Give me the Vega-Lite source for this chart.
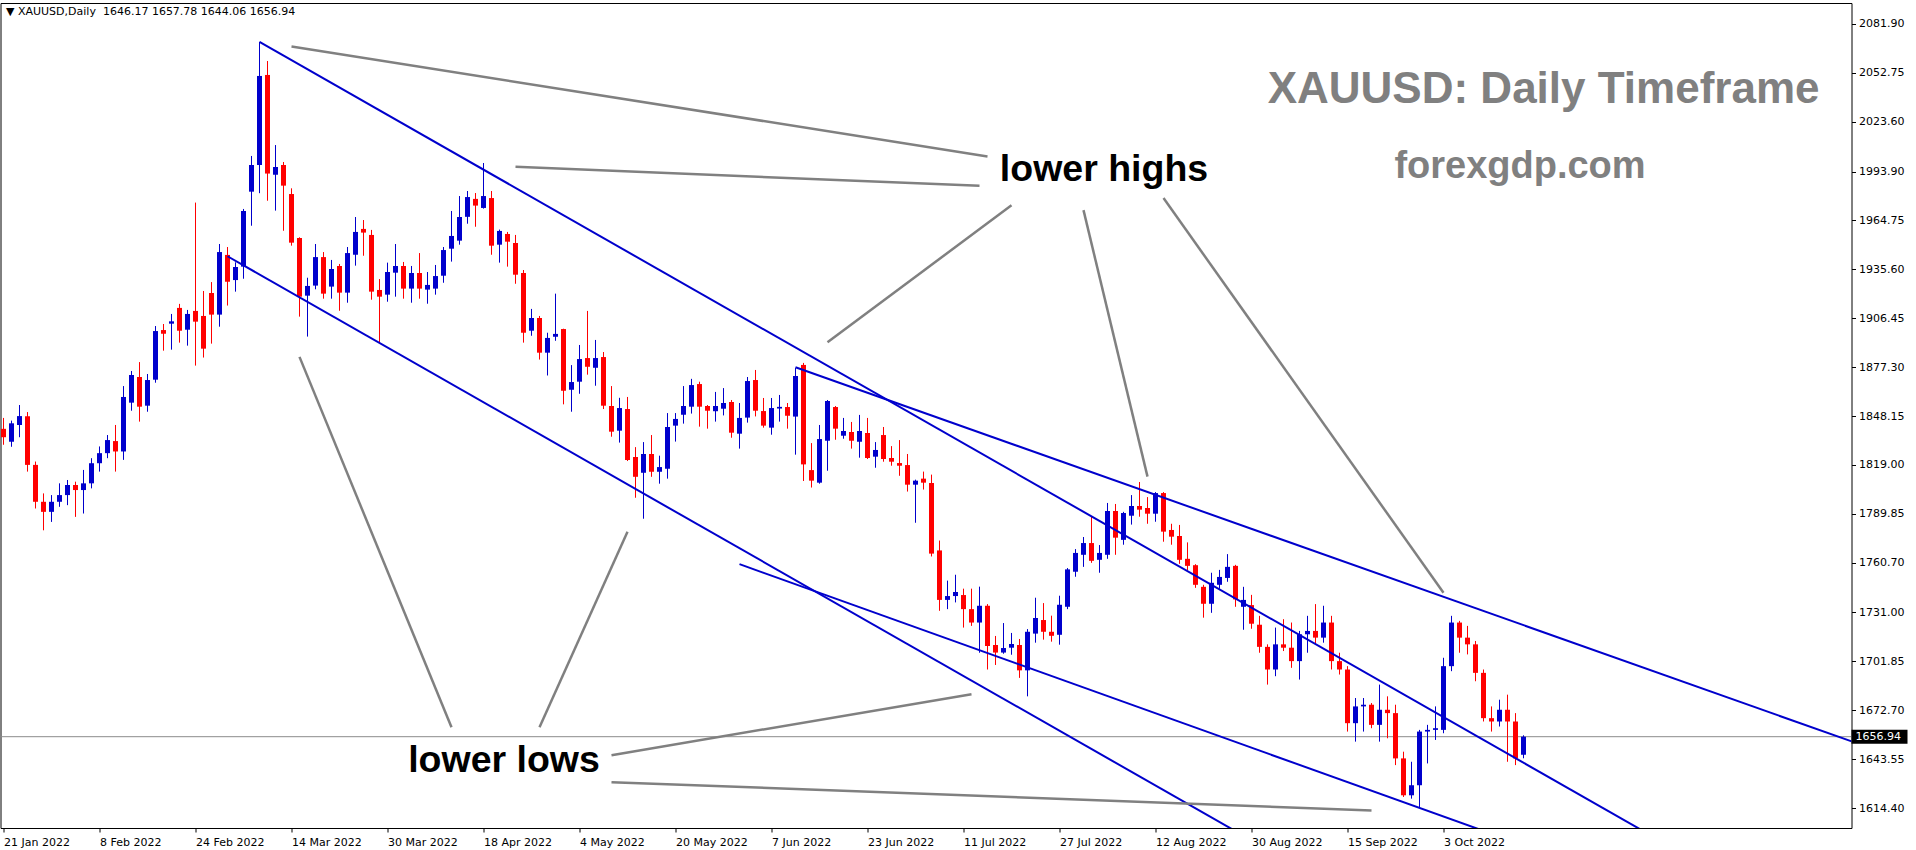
{
"$schema":"https://vega.github.io/schema/vega-lite/v6.json",
"width":1851,"height":825,
"autosize":{"type":"none"},
"padding":{"left":0.5,"top":3,"right":64.5,"bottom":22},
"background":"white",
"view":{"stroke":"black","strokeWidth":1},
"config":{"font":"DejaVu Sans"},
"datasets":{
"candles":[
{"d":"2022-01-21","o":1840.5,"h":1847,"l":1831,"c":1835.5},
{"d":"2022-01-24","o":1832.8,"h":1845.4,"l":1829.8,"c":1843.8},
{"d":"2022-01-25","o":1842.8,"h":1854.7,"l":1835.5,"c":1848.1},
{"d":"2022-01-26","o":1848,"h":1850.5,"l":1815,"c":1819},
{"d":"2022-01-27","o":1819,"h":1821,"l":1793,"c":1797},
{"d":"2022-01-28","o":1797,"h":1802,"l":1780,"c":1791},
{"d":"2022-01-31","o":1791,"h":1801,"l":1785,"c":1797},
{"d":"2022-02-01","o":1797,"h":1808,"l":1794,"c":1801},
{"d":"2022-02-02","o":1801,"h":1810,"l":1795,"c":1807},
{"d":"2022-02-03","o":1807,"h":1809,"l":1788,"c":1804},
{"d":"2022-02-04","o":1804,"h":1816,"l":1790,"c":1808},
{"d":"2022-02-07","o":1808,"h":1823,"l":1805,"c":1820},
{"d":"2022-02-08","o":1820,"h":1830,"l":1815,"c":1826},
{"d":"2022-02-09","o":1826,"h":1836.8,"l":1823,"c":1833.8},
{"d":"2022-02-10","o":1833.2,"h":1842.8,"l":1815,"c":1827},
{"d":"2022-02-11","o":1827,"h":1866,"l":1822,"c":1859.5},
{"d":"2022-02-14","o":1856.1,"h":1875,"l":1851.3,"c":1872.6},
{"d":"2022-02-15","o":1871.4,"h":1880.3,"l":1844.8,"c":1853.7},
{"d":"2022-02-16","o":1854.3,"h":1873.2,"l":1850.7,"c":1869.6},
{"d":"2022-02-17","o":1869.8,"h":1901.8,"l":1868,"c":1898.8},
{"d":"2022-02-18","o":1899.4,"h":1903,"l":1887.1,"c":1897.2},
{"d":"2022-02-21","o":1903.2,"h":1909,"l":1887.7,"c":1904.6},
{"d":"2022-02-22","o":1912.6,"h":1915,"l":1891.9,"c":1899},
{"d":"2022-02-23","o":1899.6,"h":1911.4,"l":1890.1,"c":1909},
{"d":"2022-02-24","o":1910.8,"h":1975.4,"l":1878.2,"c":1904.4},
{"d":"2022-02-25","o":1907.8,"h":1922.7,"l":1883,"c":1888.3},
{"d":"2022-02-28","o":1921.5,"h":1928,"l":1891.3,"c":1908.6},
{"d":"2022-03-01","o":1908.6,"h":1950.7,"l":1901.4,"c":1945.9},
{"d":"2022-03-02","o":1944.2,"h":1948.9,"l":1914,"c":1928.2},
{"d":"2022-03-03","o":1929.2,"h":1939.8,"l":1922.3,"c":1937},
{"d":"2022-03-04","o":1937.2,"h":1971.6,"l":1930,"c":1970.4},
{"d":"2022-03-07","o":1981.9,"h":2003.2,"l":1961.6,"c":1997.8},
{"d":"2022-03-08","o":1997.8,"h":2071.2,"l":1981,"c":2050.9},
{"d":"2022-03-09","o":2051.5,"h":2059.8,"l":1976.5,"c":1992.7},
{"d":"2022-03-10","o":1992,"h":2009.7,"l":1970.6,"c":1996.6},
{"d":"2022-03-11","o":1997.8,"h":1999.6,"l":1958.6,"c":1985.5},
{"d":"2022-03-14","o":1980.5,"h":1983.9,"l":1949.7,"c":1951.5},
{"d":"2022-03-15","o":1954.3,"h":1954.7,"l":1907.4,"c":1919.3},
{"d":"2022-03-16","o":1919.9,"h":1930.6,"l":1895.5,"c":1925.7},
{"d":"2022-03-17","o":1925.9,"h":1950.7,"l":1923.7,"c":1942.9},
{"d":"2022-03-18","o":1942.9,"h":1945.9,"l":1918.1,"c":1921.1},
{"d":"2022-03-21","o":1925.3,"h":1941.2,"l":1918.1,"c":1935.8},
{"d":"2022-03-22","o":1937.6,"h":1938.8,"l":1910.9,"c":1921.7},
{"d":"2022-03-23","o":1921.7,"h":1948.9,"l":1915.7,"c":1945.3},
{"d":"2022-03-24","o":1944.3,"h":1966.8,"l":1937.8,"c":1957.9},
{"d":"2022-03-25","o":1959.7,"h":1965,"l":1943.7,"c":1957.5},
{"d":"2022-03-28","o":1956.1,"h":1959.1,"l":1917.5,"c":1922.3},
{"d":"2022-03-29","o":1923.3,"h":1929.8,"l":1892,"c":1919.3},
{"d":"2022-03-30","o":1920.5,"h":1939.6,"l":1916.3,"c":1934},
{"d":"2022-03-31","o":1933.6,"h":1950.7,"l":1919.3,"c":1937.6},
{"d":"2022-04-01","o":1937.6,"h":1940,"l":1918.1,"c":1924.1},
{"d":"2022-04-04","o":1924.1,"h":1937.6,"l":1915.7,"c":1933.4},
{"d":"2022-04-05","o":1933.4,"h":1945.3,"l":1918.1,"c":1924.1},
{"d":"2022-04-06","o":1923.5,"h":1934,"l":1915.1,"c":1926.3},
{"d":"2022-04-07","o":1924.1,"h":1938.2,"l":1920.5,"c":1931.6},
{"d":"2022-04-08","o":1931.8,"h":1948.9,"l":1927.6,"c":1947.1},
{"d":"2022-04-11","o":1947.9,"h":1970.4,"l":1940.2,"c":1955.5},
{"d":"2022-04-12","o":1952.7,"h":1979.3,"l":1950.3,"c":1966.8},
{"d":"2022-04-13","o":1966.9,"h":1982.3,"l":1962.8,"c":1978.7},
{"d":"2022-04-14","o":1977.6,"h":1981.1,"l":1961,"c":1973.6},
{"d":"2022-04-18","o":1972.2,"h":1999,"l":1971.8,"c":1979.3},
{"d":"2022-04-19","o":1978.1,"h":1982.3,"l":1944.3,"c":1949.7},
{"d":"2022-04-20","o":1950.3,"h":1959.3,"l":1939.6,"c":1958.5},
{"d":"2022-04-21","o":1956.7,"h":1957.9,"l":1937.2,"c":1952.1},
{"d":"2022-04-22","o":1951.3,"h":1956.1,"l":1927,"c":1932.4},
{"d":"2022-04-25","o":1933.4,"h":1935.2,"l":1891.9,"c":1897.8},
{"d":"2022-04-26","o":1899,"h":1912,"l":1896,"c":1906.6},
{"d":"2022-04-27","o":1906.6,"h":1907.8,"l":1881.8,"c":1885.9},
{"d":"2022-04-28","o":1885.9,"h":1897.8,"l":1872.3,"c":1894.7},
{"d":"2022-04-29","o":1895.4,"h":1921.1,"l":1893,"c":1897.1},
{"d":"2022-05-02","o":1900,"h":1900.2,"l":1855.1,"c":1863.2},
{"d":"2022-05-03","o":1863.8,"h":1878.5,"l":1850.7,"c":1868.4},
{"d":"2022-05-04","o":1868.6,"h":1890.5,"l":1861.4,"c":1882.1},
{"d":"2022-05-05","o":1882.7,"h":1910.8,"l":1872.8,"c":1877.5},
{"d":"2022-05-06","o":1876.9,"h":1893.5,"l":1866.2,"c":1882.7},
{"d":"2022-05-09","o":1883.3,"h":1886.3,"l":1852.3,"c":1854.3},
{"d":"2022-05-10","o":1854.1,"h":1866,"l":1835.8,"c":1838.8},
{"d":"2022-05-11","o":1839.4,"h":1859,"l":1832.3,"c":1852.9},
{"d":"2022-05-12","o":1852.3,"h":1859.5,"l":1821.3,"c":1821.9},
{"d":"2022-05-13","o":1823.7,"h":1829.6,"l":1799.4,"c":1811.9},
{"d":"2022-05-16","o":1814.3,"h":1832.6,"l":1786.9,"c":1825.5},
{"d":"2022-05-17","o":1825.5,"h":1836.8,"l":1811.9,"c":1814.9},
{"d":"2022-05-18","o":1814.9,"h":1824.5,"l":1807.8,"c":1817.7},
{"d":"2022-05-19","o":1816.7,"h":1849.9,"l":1810.8,"c":1841.6},
{"d":"2022-05-20","o":1842.4,"h":1849.9,"l":1832.9,"c":1846.4},
{"d":"2022-05-23","o":1848.9,"h":1866,"l":1843.6,"c":1854.1},
{"d":"2022-05-24","o":1853.7,"h":1870.3,"l":1849.6,"c":1866.6},
{"d":"2022-05-25","o":1867.2,"h":1868.6,"l":1841.8,"c":1853.7},
{"d":"2022-05-26","o":1854.1,"h":1854.7,"l":1840.6,"c":1851.3},
{"d":"2022-05-27","o":1851,"h":1862.5,"l":1844.8,"c":1854.1},
{"d":"2022-05-30","o":1852.5,"h":1864.8,"l":1848.5,"c":1855.9},
{"d":"2022-05-31","o":1856.5,"h":1857.7,"l":1835.2,"c":1838.2},
{"d":"2022-06-01","o":1837.6,"h":1855.9,"l":1828.7,"c":1847},
{"d":"2022-06-02","o":1847.2,"h":1871.4,"l":1844.2,"c":1869},
{"d":"2022-06-03","o":1869.6,"h":1875.6,"l":1847.9,"c":1851.3},
{"d":"2022-06-06","o":1851.1,"h":1858.9,"l":1841.2,"c":1842.4},
{"d":"2022-06-07","o":1841.2,"h":1858.9,"l":1837,"c":1852.9},
{"d":"2022-06-08","o":1852.6,"h":1860.7,"l":1844.8,"c":1853.6},
{"d":"2022-06-09","o":1853.5,"h":1855.9,"l":1840.6,"c":1848.3},
{"d":"2022-06-10","o":1847.8,"h":1876.8,"l":1825.1,"c":1872},
{"d":"2022-06-13","o":1878.6,"h":1879.8,"l":1809.4,"c":1819.3},
{"d":"2022-06-14","o":1815.9,"h":1832,"l":1805.5,"c":1809.6},
{"d":"2022-06-15","o":1808.4,"h":1842.8,"l":1807.8,"c":1834.4},
{"d":"2022-06-16","o":1833.4,"h":1857.7,"l":1815.5,"c":1857.1},
{"d":"2022-06-17","o":1853.5,"h":1854.1,"l":1834,"c":1840.6},
{"d":"2022-06-20","o":1836.4,"h":1847,"l":1834.6,"c":1839.2},
{"d":"2022-06-21","o":1838.6,"h":1844.6,"l":1828.7,"c":1833.4},
{"d":"2022-06-22","o":1832.8,"h":1848.8,"l":1823.3,"c":1839.2},
{"d":"2022-06-23","o":1838,"h":1847,"l":1822.5,"c":1823.1},
{"d":"2022-06-24","o":1823.9,"h":1832.6,"l":1817.3,"c":1827.9},
{"d":"2022-06-27","o":1836.8,"h":1841.6,"l":1820.9,"c":1822.5},
{"d":"2022-06-28","o":1823.1,"h":1830.2,"l":1818.5,"c":1820.9},
{"d":"2022-06-29","o":1820.1,"h":1833.8,"l":1812.5,"c":1818.5},
{"d":"2022-06-30","o":1818.9,"h":1825.5,"l":1803.1,"c":1807.2},
{"d":"2022-07-01","o":1807.2,"h":1810.2,"l":1784.5,"c":1809.6},
{"d":"2022-07-04","o":1810.8,"h":1815,"l":1804.3,"c":1808.4},
{"d":"2022-07-05","o":1808.2,"h":1813.2,"l":1764.4,"c":1766.1},
{"d":"2022-07-06","o":1768,"h":1773.9,"l":1732,"c":1738.5},
{"d":"2022-07-07","o":1738.5,"h":1750,"l":1733,"c":1740.8},
{"d":"2022-07-08","o":1740.8,"h":1753.5,"l":1737,"c":1743.2},
{"d":"2022-07-11","o":1741.4,"h":1745.2,"l":1722,"c":1733},
{"d":"2022-07-12","o":1733,"h":1745.2,"l":1723,"c":1725},
{"d":"2022-07-13","o":1725,"h":1746.4,"l":1707,"c":1735},
{"d":"2022-07-14","o":1735,"h":1736,"l":1697,"c":1711},
{"d":"2022-07-15","o":1711.6,"h":1717,"l":1699.7,"c":1707.1},
{"d":"2022-07-18","o":1707.1,"h":1724.7,"l":1706.4,"c":1709.8},
{"d":"2022-07-19","o":1710,"h":1718.8,"l":1705.8,"c":1712.2},
{"d":"2022-07-20","o":1711.6,"h":1715.2,"l":1692,"c":1696.5},
{"d":"2022-07-21","o":1696.5,"h":1721.1,"l":1681,"c":1719.5},
{"d":"2022-07-22","o":1718.4,"h":1739.8,"l":1713,"c":1727.7},
{"d":"2022-07-25","o":1726.5,"h":1736.6,"l":1714.8,"c":1719.5},
{"d":"2022-07-26","o":1719.5,"h":1729.1,"l":1713.6,"c":1717.1},
{"d":"2022-07-27","o":1717.7,"h":1741,"l":1711.8,"c":1735.6},
{"d":"2022-07-28","o":1734.4,"h":1757.5,"l":1733,"c":1756.7},
{"d":"2022-07-29","o":1755.3,"h":1768.8,"l":1752.3,"c":1766.5},
{"d":"2022-08-01","o":1765.4,"h":1776,"l":1758.2,"c":1772.4},
{"d":"2022-08-02","o":1772.4,"h":1788.5,"l":1760.6,"c":1761.8},
{"d":"2022-08-03","o":1762.4,"h":1771.2,"l":1754.7,"c":1766.5},
{"d":"2022-08-04","o":1765.4,"h":1796.3,"l":1763,"c":1791.5},
{"d":"2022-08-05","o":1791.5,"h":1795.7,"l":1765.4,"c":1775.6},
{"d":"2022-08-08","o":1774.3,"h":1791,"l":1771.4,"c":1790.3},
{"d":"2022-08-09","o":1788.7,"h":1801,"l":1783.4,"c":1794.5},
{"d":"2022-08-10","o":1794.5,"h":1808.8,"l":1788.1,"c":1792.3},
{"d":"2022-08-11","o":1793.3,"h":1799.8,"l":1783.9,"c":1789.9},
{"d":"2022-08-12","o":1789.9,"h":1802.8,"l":1785.1,"c":1802.2},
{"d":"2022-08-15","o":1802.2,"h":1802.8,"l":1773.2,"c":1779.2},
{"d":"2022-08-16","o":1780.2,"h":1783.9,"l":1771.4,"c":1776.2},
{"d":"2022-08-17","o":1776.6,"h":1783.2,"l":1760,"c":1762.4},
{"d":"2022-08-18","o":1763,"h":1772.8,"l":1756.3,"c":1758.8},
{"d":"2022-08-19","o":1759.2,"h":1759.8,"l":1745.7,"c":1747.5},
{"d":"2022-08-22","o":1746.3,"h":1747.5,"l":1727.9,"c":1736.2},
{"d":"2022-08-23","o":1736.2,"h":1754.7,"l":1730.8,"c":1748.7},
{"d":"2022-08-24","o":1747.5,"h":1756.4,"l":1745.1,"c":1752.2},
{"d":"2022-08-25","o":1751.6,"h":1765.8,"l":1749.3,"c":1758.2},
{"d":"2022-08-26","o":1758.8,"h":1759.4,"l":1734.4,"c":1738.8},
{"d":"2022-08-29","o":1734.4,"h":1746.3,"l":1720.7,"c":1738.5},
{"d":"2022-08-30","o":1735.4,"h":1741.5,"l":1721.3,"c":1724.3},
{"d":"2022-08-31","o":1723.7,"h":1729,"l":1707,"c":1710.5},
{"d":"2022-09-01","o":1710.5,"h":1712,"l":1688,"c":1697},
{"d":"2022-09-02","o":1697,"h":1722,"l":1693,"c":1712},
{"d":"2022-09-05","o":1712,"h":1727,"l":1708,"c":1710},
{"d":"2022-09-06","o":1710,"h":1725,"l":1698,"c":1702},
{"d":"2022-09-07","o":1702,"h":1720,"l":1691,"c":1718},
{"d":"2022-09-08","o":1718,"h":1729,"l":1707,"c":1720},
{"d":"2022-09-09","o":1720,"h":1736,"l":1712,"c":1716},
{"d":"2022-09-12","o":1716,"h":1735,"l":1713,"c":1725},
{"d":"2022-09-13","o":1725,"h":1729,"l":1697,"c":1702},
{"d":"2022-09-14","o":1702,"h":1707,"l":1694,"c":1697},
{"d":"2022-09-15","o":1697,"h":1699,"l":1660,"c":1665},
{"d":"2022-09-16","o":1665,"h":1680,"l":1654,"c":1675},
{"d":"2022-09-19","o":1675,"h":1680,"l":1660,"c":1676},
{"d":"2022-09-20","o":1676,"h":1677,"l":1662,"c":1664},
{"d":"2022-09-21","o":1664,"h":1688,"l":1654,"c":1673},
{"d":"2022-09-22","o":1673,"h":1681,"l":1656,"c":1671},
{"d":"2022-09-23","o":1671,"h":1676,"l":1640,"c":1644},
{"d":"2022-09-26","o":1644,"h":1648,"l":1621,"c":1622},
{"d":"2022-09-27","o":1622,"h":1642,"l":1620,"c":1628},
{"d":"2022-09-28","o":1628,"h":1661,"l":1615,"c":1660},
{"d":"2022-09-29","o":1660,"h":1664,"l":1641,"c":1661},
{"d":"2022-09-30","o":1661,"h":1675,"l":1655,"c":1662},
{"d":"2022-10-03","o":1661,"h":1704,"l":1659,"c":1699},
{"d":"2022-10-04","o":1699,"h":1729,"l":1696,"c":1725},
{"d":"2022-10-05","o":1725,"h":1726,"l":1707,"c":1716},
{"d":"2022-10-06","o":1716,"h":1723,"l":1706,"c":1712},
{"d":"2022-10-07","o":1712,"h":1714,"l":1690,"c":1695},
{"d":"2022-10-10","o":1695,"h":1697,"l":1666,"c":1668},
{"d":"2022-10-11","o":1668,"h":1675,"l":1660,"c":1666},
{"d":"2022-10-12","o":1666,"h":1679,"l":1663,"c":1673},
{"d":"2022-10-13","o":1673,"h":1682,"l":1642,"c":1666},
{"d":"2022-10-14","o":1666,"h":1671,"l":1640,"c":1644},
{"d":"2022-10-17","o":1646.17,"h":1657.78,"l":1644.06,"c":1656.94}
],
"blue":[
{"id":"L1","d":"2022-03-08","p":2071.2},{"id":"L1","d":"2022-11-08","p":1597.9},
{"id":"L2","d":"2022-06-10","p":1877.2},{"id":"L2","d":"2022-12-19","p":1647.4},
{"id":"L3","d":"2022-03-02","p":1943.4},{"id":"L3","d":"2022-08-30","p":1595.2},
{"id":"L4","d":"2022-06-01","p":1759.8},{"id":"L4","d":"2022-10-11","p":1599.1}
],
"grey":[
{"id":"G1","d":"2022-03-14","p":2068.5},{"id":"G1","d":"2022-07-14","p":2002.9},
{"id":"G2","d":"2022-04-22","p":1996.7},{"id":"G2","d":"2022-07-13","p":1985.4},
{"id":"G3","d":"2022-06-16","p":1892.1},{"id":"G3","d":"2022-07-19","p":1973.8},
{"id":"G4","d":"2022-08-01","p":1970.9},{"id":"G4","d":"2022-08-11","p":1812.0},
{"id":"G5","d":"2022-08-15","p":1978.1},{"id":"G5","d":"2022-10-03","p":1742.8},
{"id":"G6","d":"2022-03-15","p":1883.4},{"id":"G6","d":"2022-04-11","p":1662.6},
{"id":"G7","d":"2022-05-12","p":1779.2},{"id":"G7","d":"2022-04-27","p":1662.6},
{"id":"G8","d":"2022-05-10","p":1645.9},{"id":"G8","d":"2022-07-12","p":1682.3},
{"id":"G9","d":"2022-05-10","p":1629.8},{"id":"G9","d":"2022-09-20","p":1613.0}
]
},
"layer":[
{"data":{"values":[{"p":1656.94}]},
 "mark":{"type":"rule","color":"#8c8c8c","strokeWidth":1},
 "encoding":{"y":{"field":"p","type":"quantitative","title":null}}},
{"data":{"name":"candles"},
 "mark":{"type":"rule","strokeWidth":1},
 "encoding":{
  "x":{"field":"d","type":"ordinal","title":null,
   "scale":{"type":"point","padding":0,"range":[3,1907],
    "domain":["2022-01-21","2022-01-24","2022-01-25","2022-01-26","2022-01-27","2022-01-28","2022-01-31","2022-02-01","2022-02-02","2022-02-03","2022-02-04","2022-02-07","2022-02-08","2022-02-09","2022-02-10","2022-02-11","2022-02-14","2022-02-15","2022-02-16","2022-02-17","2022-02-18","2022-02-21","2022-02-22","2022-02-23","2022-02-24","2022-02-25","2022-02-28","2022-03-01","2022-03-02","2022-03-03","2022-03-04","2022-03-07","2022-03-08","2022-03-09","2022-03-10","2022-03-11","2022-03-14","2022-03-15","2022-03-16","2022-03-17","2022-03-18","2022-03-21","2022-03-22","2022-03-23","2022-03-24","2022-03-25","2022-03-28","2022-03-29","2022-03-30","2022-03-31","2022-04-01","2022-04-04","2022-04-05","2022-04-06","2022-04-07","2022-04-08","2022-04-11","2022-04-12","2022-04-13","2022-04-14","2022-04-18","2022-04-19","2022-04-20","2022-04-21","2022-04-22","2022-04-25","2022-04-26","2022-04-27","2022-04-28","2022-04-29","2022-05-02","2022-05-03","2022-05-04","2022-05-05","2022-05-06","2022-05-09","2022-05-10","2022-05-11","2022-05-12","2022-05-13","2022-05-16","2022-05-17","2022-05-18","2022-05-19","2022-05-20","2022-05-23","2022-05-24","2022-05-25","2022-05-26","2022-05-27","2022-05-30","2022-05-31","2022-06-01","2022-06-02","2022-06-03","2022-06-06","2022-06-07","2022-06-08","2022-06-09","2022-06-10","2022-06-13","2022-06-14","2022-06-15","2022-06-16","2022-06-17","2022-06-20","2022-06-21","2022-06-22","2022-06-23","2022-06-24","2022-06-27","2022-06-28","2022-06-29","2022-06-30","2022-07-01","2022-07-04","2022-07-05","2022-07-06","2022-07-07","2022-07-08","2022-07-11","2022-07-12","2022-07-13","2022-07-14","2022-07-15","2022-07-18","2022-07-19","2022-07-20","2022-07-21","2022-07-22","2022-07-25","2022-07-26","2022-07-27","2022-07-28","2022-07-29","2022-08-01","2022-08-02","2022-08-03","2022-08-04","2022-08-05","2022-08-08","2022-08-09","2022-08-10","2022-08-11","2022-08-12","2022-08-15","2022-08-16","2022-08-17","2022-08-18","2022-08-19","2022-08-22","2022-08-23","2022-08-24","2022-08-25","2022-08-26","2022-08-29","2022-08-30","2022-08-31","2022-09-01","2022-09-02","2022-09-05","2022-09-06","2022-09-07","2022-09-08","2022-09-09","2022-09-12","2022-09-13","2022-09-14","2022-09-15","2022-09-16","2022-09-19","2022-09-20","2022-09-21","2022-09-22","2022-09-23","2022-09-26","2022-09-27","2022-09-28","2022-09-29","2022-09-30","2022-10-03","2022-10-04","2022-10-05","2022-10-06","2022-10-07","2022-10-10","2022-10-11","2022-10-12","2022-10-13","2022-10-14","2022-10-17","2022-10-18","2022-10-19","2022-10-20","2022-10-21","2022-10-24","2022-10-25","2022-10-26","2022-10-27","2022-10-28","2022-10-31","2022-11-01","2022-11-02","2022-11-03","2022-11-04","2022-11-07","2022-11-08","2022-11-09","2022-11-10","2022-11-11","2022-11-14","2022-11-15","2022-11-16","2022-11-17","2022-11-18","2022-11-21","2022-11-22","2022-11-23","2022-11-24","2022-11-25","2022-11-28","2022-11-29","2022-11-30","2022-12-01","2022-12-02","2022-12-05","2022-12-06","2022-12-07","2022-12-08","2022-12-09","2022-12-12","2022-12-13","2022-12-14","2022-12-15","2022-12-16","2022-12-19","2022-12-20","2022-12-21","2022-12-22"]},
   "axis":{"values":["2022-01-21","2022-02-08","2022-02-24","2022-03-14","2022-03-30","2022-04-18","2022-05-04","2022-05-20","2022-06-07","2022-06-23","2022-07-11","2022-07-27","2022-08-12","2022-08-30","2022-09-15","2022-10-03"],
    "labelExpr":"utcFormat(toDate(datum.value), '%-d %b %Y')",
    "labelAlign":"left","labelBaseline":"top","labelPadding":4,"labelAngle":0,
    "tickSize":4,"tickColor":"black","domain":false,"grid":false,
    "labelFont":"DejaVu Sans","labelFontSize":11,"labelColor":"black","labelOverlap":false,"labelFlush":false,"title":null}},
  "y":{"field":"l","type":"quantitative","title":null,
   "scale":{"domain":[1602.5,2094.4],"zero":false,"nice":false},
   "axis":{"orient":"right","values":[2081.90,2052.75,2023.60,1993.90,1964.75,1935.60,1906.45,1877.30,1848.15,1819.00,1789.85,1760.70,1731.00,1701.85,1672.70,1643.55,1614.40],
    "format":".2f","tickSize":4,"tickColor":"black","labelPadding":3,"domain":false,"grid":false,
    "labelFont":"DejaVu Sans","labelFontSize":11,"labelColor":"black","labelOverlap":false,"labelFlush":false,"title":null}},
  "y2":{"field":"h"},
  "color":{"condition":{"test":"datum.c >= datum.o","value":"#0000CC"},"value":"#FF0000"}}},
{"data":{"name":"candles"},
 "mark":{"type":"rule","strokeWidth":5,"strokeCap":"butt"},
 "encoding":{
  "x":{"field":"d","type":"ordinal","title":null},
  "y":{"field":"o","type":"quantitative","title":null},
  "y2":{"field":"c"},
  "color":{"condition":{"test":"datum.c >= datum.o","value":"#0000CC"},"value":"#FF0000"}}},
{"data":{"name":"blue"},
 "mark":{"type":"line","color":"#0000CC","strokeWidth":2,"clip":true},
 "encoding":{
  "x":{"field":"d","type":"ordinal","title":null},
  "y":{"field":"p","type":"quantitative","title":null},
  "detail":{"field":"id"}}},
{"data":{"name":"grey"},
 "mark":{"type":"line","color":"#808080","strokeWidth":2.5,"clip":true},
 "encoding":{
  "x":{"field":"d","type":"ordinal","title":null},
  "y":{"field":"p","type":"quantitative","title":null},
  "detail":{"field":"id"}}},
{"data":{"values":[{"d":"2022-01-21","p":2089.0,"t":"▼ XAUUSD,Daily \u00a01646.17 1657.78 1644.06 1656.94"}]},
 "mark":{"type":"text","align":"left","baseline":"middle","dx":2.5,"font":"DejaVu Sans","fontSize":11,"color":"black"},
 "encoding":{"x":{"field":"d","type":"ordinal","title":null},"y":{"field":"p","type":"quantitative","title":null},"text":{"field":"t"}}},
{"data":{"values":[{"d":"2022-12-07","p":2035.0,"t":"XAUUSD: Daily Timeframe"}]},
 "mark":{"type":"text","align":"right","baseline":"alphabetic","font":"Liberation Sans","fontWeight":"bold","fontSize":44,"color":"#808080"},
 "encoding":{"x":{"field":"d","type":"ordinal","title":null},"y":{"field":"p","type":"quantitative","title":null},"text":{"field":"t"}}},
{"data":{"values":[{"d":"2022-10-17","p":1989.8,"t":"forexgdp.com"}]},
 "mark":{"type":"text","align":"center","baseline":"alphabetic","dx":-3.5,"font":"Liberation Sans","fontWeight":"bold","fontSize":38,"color":"#808080"},
 "encoding":{"x":{"field":"d","type":"ordinal","title":null},"y":{"field":"p","type":"quantitative","title":null},"text":{"field":"t"}}},
{"data":{"values":[{"d":"2022-08-04","p":1988.3,"t":"lower highs"},{"d":"2022-04-21","p":1635.7,"t":"lower lows"}]},
 "mark":{"type":"text","align":"center","baseline":"alphabetic","dx":-3.5,"font":"Liberation Sans","fontWeight":"bold","fontSize":37.5,"color":"black"},
 "encoding":{"x":{"field":"d","type":"ordinal","title":null},"y":{"field":"p","type":"quantitative","title":null},"text":{"field":"t"}}},
{"data":{"values":[{"d0":"2022-12-13","d1":"2022-12-22","p":1656.94}]},
 "mark":{"type":"rule","color":"black","strokeWidth":14,"strokeCap":"butt"},
 "encoding":{"x":{"field":"d0","type":"ordinal","title":null},"x2":{"field":"d1"},"y":{"field":"p","type":"quantitative","title":null}}},
{"data":{"values":[{"d":"2022-12-13","p":1656.94}]},
 "mark":{"type":"text","align":"left","baseline":"middle","dx":4,"font":"DejaVu Sans","fontSize":11,"color":"white"},
 "encoding":{"x":{"field":"d","type":"ordinal","title":null},"y":{"field":"p","type":"quantitative","title":null},"text":{"field":"p","format":".2f"}}}
]
}
